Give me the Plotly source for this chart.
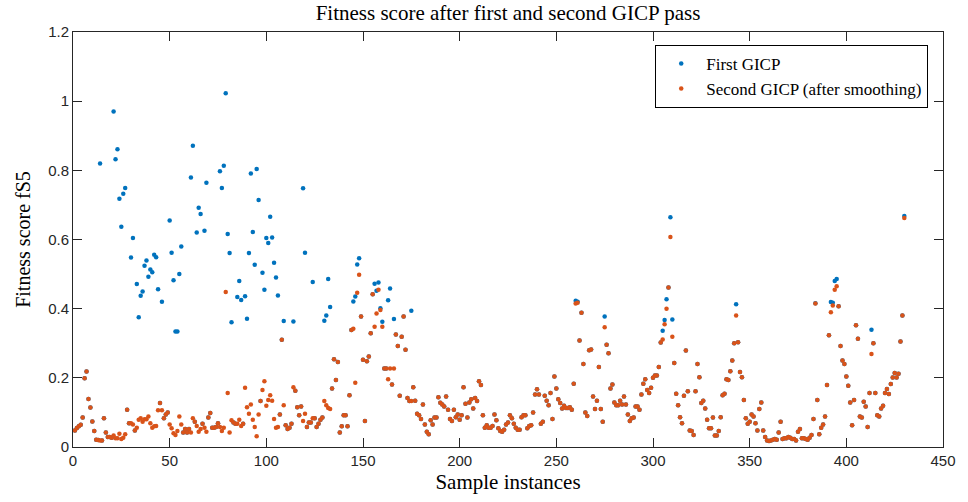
import plotly.graph_objects as go

# Fitness score per sample, after the second (smoothed) GICP pass
second_gicp = [
    0.048, 0.055, 0.060, 0.064, 0.085, 0.199, 0.218, 0.139, 0.114, 0.074,
    0.046, 0.021, 0.020, 0.019, 0.019, 0.083, 0.042, 0.029, 0.029, 0.027,
    0.033, 0.025, 0.025, 0.038, 0.023, 0.027, 0.037, 0.108, 0.069, 0.069,
    0.065, 0.048, 0.056, 0.079, 0.083, 0.073, 0.080, 0.080, 0.088, 0.069,
    0.056, 0.060, 0.061, 0.106, 0.127, 0.106, 0.083, 0.094, 0.100, 0.065,
    0.054, 0.040, 0.035, 0.046, 0.088, 0.065, 0.042, 0.052, 0.042, 0.052,
    0.042, 0.083, 0.073, 0.061, 0.044, 0.052, 0.067, 0.056, 0.044, 0.085,
    0.098, 0.056, 0.056, 0.058, 0.069, 0.058, 0.046, 0.056, 0.448, 0.156,
    0.042, 0.077, 0.071, 0.067, 0.067, 0.079, 0.061, 0.067, 0.171, 0.115,
    0.096, 0.123, 0.079, 0.058, 0.031, 0.094, 0.133, 0.165, 0.190, 0.119,
    0.136, 0.150, 0.134, 0.081, 0.056, 0.058, 0.094, 0.310, 0.121, 0.063,
    0.052, 0.056, 0.067, 0.173, 0.163, 0.115, 0.092, 0.117, 0.075, 0.096,
    0.058, 0.071, 0.071, 0.083, 0.083, 0.058, 0.067, 0.079, 0.085, 0.133,
    0.121, 0.113, 0.110, 0.169, 0.254, 0.194, 0.246, 0.042, 0.060, 0.092,
    0.092, 0.060, 0.150, 0.338, 0.342, 0.186, 0.446, 0.498, 0.377, 0.252,
    0.075, 0.248, 0.262, 0.329, 0.442, 0.348, 0.386, 0.455, 0.396, 0.348,
    0.227, 0.227, 0.196, 0.227, 0.181, 0.227, 0.325, 0.292, 0.148, 0.319,
    0.377, 0.281, 0.142, 0.133, 0.133, 0.173, 0.134, 0.096, 0.092, 0.081,
    0.123, 0.065, 0.044, 0.037, 0.077, 0.065, 0.085, 0.085, 0.144, 0.128,
    0.123, 0.117, 0.146, 0.108, 0.081, 0.075, 0.108, 0.086, 0.094, 0.079,
    0.092, 0.173, 0.125, 0.085, 0.129, 0.138, 0.111, 0.142, 0.133, 0.190,
    0.179, 0.092, 0.056, 0.063, 0.056, 0.056, 0.061, 0.094, 0.077, 0.054,
    0.046, 0.044, 0.050, 0.065, 0.071, 0.092, 0.083, 0.067, 0.056, 0.050,
    0.050, 0.086, 0.092, 0.092, 0.054, 0.061, 0.063, 0.100, 0.152, 0.167,
    0.152, 0.067, 0.073, 0.148, 0.134, 0.121, 0.156, 0.081, 0.204, 0.169,
    0.138, 0.127, 0.111, 0.119, 0.113, 0.113, 0.115, 0.108, 0.183, 0.415,
    0.417, 0.308, 0.388, 0.240, 0.100, 0.090, 0.280, 0.282, 0.146, 0.110,
    0.134, 0.231, 0.110, 0.073, 0.346, 0.296, 0.271, 0.169, 0.181, 0.129,
    0.121, 0.121, 0.134, 0.123, 0.146, 0.123, 0.094, 0.075, 0.083, 0.085,
    0.117, 0.117, 0.108, 0.152, 0.183, 0.196, 0.165, 0.156, 0.171, 0.200,
    0.207, 0.207, 0.231, 0.302, 0.311, 0.355, 0.400, 0.461, 0.607, 0.319,
    0.243, 0.154, 0.121, 0.086, 0.069, 0.148, 0.279, 0.161, 0.048, 0.046,
    0.035, 0.161, 0.240, 0.202, 0.127, 0.134, 0.111, 0.079, 0.054, 0.054,
    0.085, 0.033, 0.033, 0.046, 0.086, 0.150, 0.154, 0.196, 0.194, 0.219,
    0.250, 0.300, 0.380, 0.303, 0.217, 0.202, 0.136, 0.083, 0.067, 0.073,
    0.094, 0.088, 0.069, 0.048, 0.110, 0.129, 0.048, 0.029, 0.019, 0.017,
    0.019, 0.021, 0.023, 0.021, 0.042, 0.073, 0.023, 0.025, 0.025, 0.029,
    0.027, 0.023, 0.023, 0.019, 0.044, 0.052, 0.025, 0.025, 0.023, 0.021,
    0.027, 0.035, 0.081, 0.415, 0.136, 0.037, 0.056, 0.065, 0.088, 0.179,
    0.323, 0.390, 0.409, 0.455, 0.465, 0.407, 0.292, 0.250, 0.240, 0.204,
    0.177, 0.129, 0.063, 0.136, 0.352, 0.313, 0.088, 0.085, 0.131, 0.117,
    0.058, 0.156, 0.269, 0.300, 0.156, 0.092, 0.088, 0.111, 0.119, 0.156,
    0.168, 0.153, 0.182, 0.201, 0.214, 0.201, 0.212, 0.305, 0.380, 0.662,
]

# Fitness score per sample, after the first GICP pass
first_gicp = [
    0.048, 0.055, 0.060, 0.064, 0.085, 0.199, 0.218, 0.139, 0.114, 0.074,
    0.046, 0.021, 0.020, 0.820, 0.019, 0.083, 0.042, 0.029, 0.029, 0.027,
    0.970, 0.832, 0.861, 0.718, 0.637, 0.732, 0.749, 0.108, 0.069, 0.548,
    0.604, 0.048, 0.471, 0.375, 0.437, 0.450, 0.524, 0.539, 0.492, 0.513,
    0.505, 0.556, 0.549, 0.456, 0.127, 0.420, 0.083, 0.094, 0.100, 0.655,
    0.562, 0.482, 0.334, 0.334, 0.500, 0.580, 0.042, 0.052, 0.042, 0.052,
    0.779, 0.871, 0.073, 0.620, 0.692, 0.674, 0.067, 0.625, 0.764, 0.085,
    0.098, 0.056, 0.056, 0.058, 0.069, 0.797, 0.749, 0.813, 1.023, 0.616,
    0.561, 0.361, 0.071, 0.067, 0.434, 0.480, 0.425, 0.067, 0.436, 0.371,
    0.561, 0.791, 0.622, 0.527, 0.804, 0.714, 0.133, 0.504, 0.455, 0.604,
    0.590, 0.666, 0.606, 0.533, 0.490, 0.438, 0.094, 0.310, 0.364, 0.063,
    0.052, 0.056, 0.067, 0.363, 0.163, 0.115, 0.092, 0.117, 0.748, 0.562,
    0.058, 0.071, 0.071, 0.477, 0.083, 0.058, 0.067, 0.079, 0.085, 0.365,
    0.380, 0.486, 0.405, 0.169, 0.254, 0.194, 0.246, 0.042, 0.060, 0.092,
    0.092, 0.060, 0.150, 0.338, 0.421, 0.435, 0.528, 0.546, 0.377, 0.252,
    0.075, 0.248, 0.262, 0.329, 0.442, 0.472, 0.452, 0.476, 0.401, 0.362,
    0.227, 0.227, 0.424, 0.458, 0.181, 0.370, 0.325, 0.292, 0.148, 0.319,
    0.377, 0.281, 0.142, 0.133, 0.394, 0.173, 0.134, 0.096, 0.092, 0.081,
    0.123, 0.065, 0.044, 0.037, 0.077, 0.065, 0.085, 0.085, 0.144, 0.128,
    0.123, 0.117, 0.146, 0.108, 0.081, 0.075, 0.108, 0.086, 0.094, 0.079,
    0.092, 0.173, 0.125, 0.085, 0.129, 0.138, 0.111, 0.142, 0.133, 0.190,
    0.179, 0.092, 0.056, 0.063, 0.056, 0.056, 0.061, 0.094, 0.077, 0.054,
    0.046, 0.044, 0.050, 0.065, 0.071, 0.092, 0.083, 0.067, 0.056, 0.050,
    0.050, 0.086, 0.092, 0.092, 0.054, 0.061, 0.063, 0.100, 0.152, 0.167,
    0.152, 0.067, 0.073, 0.148, 0.134, 0.121, 0.156, 0.081, 0.204, 0.169,
    0.138, 0.127, 0.111, 0.119, 0.113, 0.113, 0.115, 0.108, 0.183, 0.423,
    0.420, 0.308, 0.388, 0.240, 0.100, 0.090, 0.280, 0.282, 0.146, 0.110,
    0.134, 0.231, 0.110, 0.073, 0.377, 0.296, 0.271, 0.169, 0.181, 0.129,
    0.121, 0.121, 0.134, 0.123, 0.146, 0.123, 0.094, 0.075, 0.083, 0.085,
    0.117, 0.117, 0.108, 0.152, 0.183, 0.196, 0.165, 0.156, 0.171, 0.200,
    0.207, 0.207, 0.231, 0.302, 0.336, 0.367, 0.427, 0.461, 0.664, 0.369,
    0.243, 0.154, 0.121, 0.086, 0.069, 0.148, 0.279, 0.161, 0.048, 0.046,
    0.035, 0.161, 0.240, 0.202, 0.127, 0.134, 0.111, 0.079, 0.054, 0.054,
    0.085, 0.033, 0.033, 0.046, 0.086, 0.150, 0.154, 0.196, 0.194, 0.219,
    0.250, 0.300, 0.413, 0.303, 0.217, 0.202, 0.136, 0.083, 0.067, 0.073,
    0.094, 0.088, 0.069, 0.048, 0.110, 0.129, 0.048, 0.029, 0.019, 0.017,
    0.019, 0.021, 0.023, 0.021, 0.042, 0.073, 0.023, 0.025, 0.025, 0.029,
    0.027, 0.023, 0.023, 0.019, 0.044, 0.052, 0.025, 0.025, 0.023, 0.021,
    0.027, 0.035, 0.081, 0.416, 0.136, 0.037, 0.056, 0.065, 0.088, 0.179,
    0.323, 0.419, 0.417, 0.480, 0.486, 0.407, 0.292, 0.250, 0.240, 0.204,
    0.177, 0.129, 0.063, 0.136, 0.352, 0.313, 0.088, 0.085, 0.131, 0.117,
    0.058, 0.156, 0.339, 0.300, 0.156, 0.092, 0.088, 0.111, 0.119, 0.156,
    0.168, 0.153, 0.182, 0.201, 0.214, 0.201, 0.212, 0.305, 0.380, 0.668,
]

samples = list(range(1, len(second_gicp) + 1))

x_ticks = [0, 50, 100, 150, 200, 250, 300, 350, 400, 450]
y_ticks = [0, 0.2, 0.4, 0.6, 0.8, 1.0, 1.2]
y_tick_text = ["0", "0.2", "0.4", "0.6", "0.8", "1", "1.2"]

BLUE = "#0072BD"
ORANGE = "#D95319"
AXIS = "#262626"
SERIF = "Liberation Serif, Times New Roman, serif"
SANS = "Liberation Sans, Arial, sans-serif"

fig = go.Figure()
fig.add_trace(go.Scatter(
    x=samples, y=first_gicp, mode="markers", name="First GICP",
    marker=dict(color=BLUE, size=4.5, line=dict(width=0)),
))
fig.add_trace(go.Scatter(
    x=samples, y=second_gicp, mode="markers", name="Second GICP (after smoothing)",
    marker=dict(color=ORANGE, size=4.5, line=dict(width=0)),
))

axis_common = dict(
    showline=True, linecolor=AXIS, linewidth=1, mirror="allticks",
    ticks="inside", ticklen=9, tickcolor=AXIS, tickwidth=1,
    showgrid=False, zeroline=False,
    tickfont=dict(family=SANS, size=15, color=AXIS),
)

fig.update_layout(
    width=968, height=502,
    margin=dict(l=73, r=15, t=32, b=54),
    paper_bgcolor="white", plot_bgcolor="white",
    title=dict(
        text="Fitness score after first and second GICP pass",
        x=0.5, xanchor="center", xref="paper", y=0.975, yanchor="middle",
        font=dict(family=SERIF, size=21, color="black"),
    ),
    xaxis=dict(
        range=[0, 450], tickvals=x_ticks,
        title=dict(text="Sample instances", font=dict(family=SERIF, size=21, color="black"), standoff=6),
        **axis_common,
    ),
    yaxis=dict(
        range=[0, 1.2], tickvals=y_ticks, ticktext=y_tick_text,
        title=dict(text="Fitness score fS5", font=dict(family=SERIF, size=20, color="black"), standoff=12),
        **axis_common,
    ),
    legend=dict(
        x=0.983, y=0.969, xanchor="right", yanchor="top",
        bgcolor="white", bordercolor="black", borderwidth=1,
        font=dict(family=SERIF, size=17, color="black"),
        itemsizing="trace", tracegroupgap=0, itemwidth=40,
    ),
    showlegend=True,
)

fig.write_html("out.html")
